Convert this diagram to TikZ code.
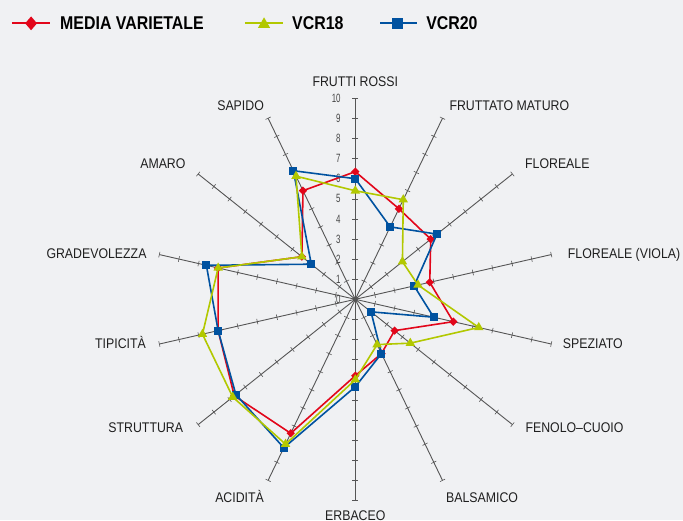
\documentclass[tikz,border=0pt]{standalone}
\usepackage{fontspec}
\usepackage{tikz}
\usetikzlibrary{shapes.geometric}
\newfontfamily\lblfont{Liberation Sans}[FakeStretch=0.88]
\newfontfamily\numfont{Liberation Sans}[FakeStretch=0.66]
\newfontfamily\legfont{Liberation Sans}[FakeStretch=0.86]

\definecolor{mediared}{RGB}{226,6,26}
\definecolor{vcrgreen}{RGB}{178,200,0}
\definecolor{vcrblue}{RGB}{0,82,160}
\definecolor{bggrey}{RGB}{240,241,243}
\definecolor{axisgrey}{RGB}{85,85,85}

\tikzset{
  axisline/.style={axisgrey, line width=0.9pt},
  tickmark/.style={axisgrey, line width=0.6pt},
  series/.style={line width=1.6pt, line join=round},
  legline/.style={line width=2pt},
  mediamark/.style={diamond, fill=mediared, inner sep=0pt, minimum size=8.5pt},
  vcrtmark/.style={regular polygon, regular polygon sides=3, fill=vcrgreen, inner sep=0pt, minimum size=11pt},
  vcrqmark/.style={rectangle, fill=vcrblue, inner sep=0pt, minimum size=8pt},
  lbl/.style={inner sep=0pt, text=black!88, font=\lblfont\fontsize{14}{14}\selectfont},
  num/.style={inner sep=0pt, anchor=east, text=black!72, font=\numfont\fontsize{12}{12}\selectfont},
  legtxt/.style={inner sep=0pt, anchor=base west, text=black, font=\legfont\bfseries\fontsize{18.5}{18.5}\selectfont}
}

\begin{document}
\begin{tikzpicture}[x=20.1pt, y=20.1pt]
  \fill[bggrey] (-17.677,-10.980) rectangle (16.303,14.891);
  \useasboundingbox (-17.677,-10.980) rectangle (16.303,14.891);

  % legend
  \draw[legline, mediared] (-17.08,13.73) -- (-15.19,13.73);
  \node[mediamark, minimum width=12pt, minimum height=14pt] (legmedia) at (-16.13,13.73) {};
  \node[legtxt] (legmediatxt) at (-14.69,13.40) {MEDIA VARIETALE};
  \draw[legline, vcrgreen] (-5.49,13.73) -- (-3.60,13.73);
  \node[vcrtmark, minimum size=14pt] (legvcrt) at (-4.54,13.68) {};
  \node[legtxt] (legvcrttxt) at (-3.15,13.40) {VCR18};
  \draw[legline, vcrblue] (1.23,13.73) -- (3.07,13.73);
  \node[vcrqmark, minimum size=11pt] (legvcrq) at (2.12,13.73) {};
  \node[legtxt] (legvcrqtxt) at (3.52,13.40) {VCR20};

  % axes with ticks
  \foreach \i [evaluate=\i as \a using 90-\i*360/14] in {0,...,13} {
    \draw[axisline] (0,0) -- (\a:10);
    \foreach \k in {1,...,10}
      \draw[tickmark, rotate=\a] (\k,-0.14) -- (\k,0.14);
  }
  \fill[axisgrey] (0,0) circle (2.6pt);

  % scale
  \foreach \k in {0,...,10}
    \node[num] (n\k) at (-0.72,\k) {\k};

  % axis labels
  \node[lbl, anchor=base] (frutti) at (0,10.58) {FRUTTI ROSSI};
  \node[lbl, anchor=base west] (fruttato) at (4.68,9.38) {FRUTTATO MATURO};
  \node[lbl, anchor=base west] (floreale) at (8.44,6.53) {FLOREALE};
  \node[lbl, anchor=base west] (viola) at (10.57,2.05) {FLOREALE (VIOLA)};
  \node[lbl, anchor=base west] (speziato) at (10.32,-2.46) {SPEZIATO};
  \node[lbl, anchor=base west] (fenolo) at (8.46,-6.62) {FENOLO–CUOIO};
  \node[lbl, anchor=base west] (balsamico) at (4.51,-10.10) {BALSAMICO};
  \node[lbl, anchor=base] (erbaceo) at (0,-11.0) {ERBACEO};
  \node[lbl, anchor=base east] (acidita) at (-4.54,-10.10) {ACIDITÀ};
  \node[lbl, anchor=base east] (struttura) at (-8.56,-6.62) {STRUTTURA};
  \node[lbl, anchor=base east] (tipicita) at (-10.41,-2.46) {TIPICITÀ};
  \node[lbl, anchor=base east] (gradevolezza) at (-10.38,2.05) {GRADEVOLEZZA};
  \node[lbl, anchor=base east] (amaro) at (-8.44,6.53) {AMARO};
  \node[lbl, anchor=base east] (sapido) at (-4.54,9.38) {SAPIDO};

  % data points
  \foreach \v [count=\i from 0] in {6.35,5.0,4.8,3.8,5.0,2.5,3.0,3.8,7.4,7.7,7.0,7.0,3.4,6.0}
    \coordinate (m\i) at ({90-\i*360/14}:\v);
  \foreach \v [count=\i from 0] in {5.4,5.5,3.0,3.2,6.3,3.5,2.5,4.0,8.0,7.8,7.8,7.0,3.4,6.8}
    \coordinate (t\i) at ({90-\i*360/14}:\v);
  \foreach \v [count=\i from 0] in {6.0,4.0,5.2,3.0,4.0,1.0,3.0,4.35,8.2,7.6,7.0,7.6,2.8,7.1}
    \coordinate (q\i) at ({90-\i*360/14}:\v);

  % media varietale
  \draw[series, mediared] (m0) \foreach \i in {1,...,13} {-- (m\i)} -- cycle;
  \foreach \i in {0,...,13}
    \node[mediamark] (mm\i) at (m\i) {};
  % VCR20
  \draw[series, vcrblue] (q0) \foreach \i in {1,...,13} {-- (q\i)} -- cycle;
  \foreach \i in {0,...,13}
    \node[vcrqmark] (qm\i) at (q\i) {};
  % VCR18
  \draw[series, vcrgreen] (t0) \foreach \i in {1,...,13} {-- (t\i)} -- cycle;
  \foreach \i in {0,...,13}
    \node[vcrtmark] (tm\i) at (t\i) {};
\end{tikzpicture}
\end{document}
